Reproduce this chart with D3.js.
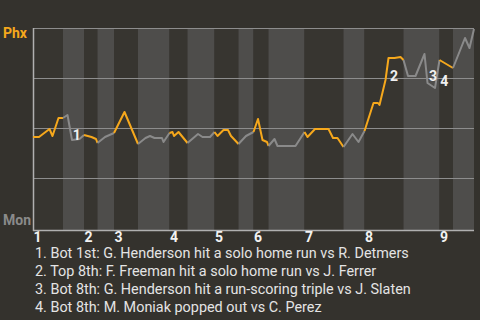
<!DOCTYPE html>
<html><head><meta charset="utf-8">
<script src="https://cdn.jsdelivr.net/npm/d3@7"></script>
<style>
html,body{margin:0;padding:0;background:#34322d;}
svg{display:block;}
text{font-family:Roboto,"Noto Sans",sans-serif;}
</style></head><body>
<svg id="chart" width="480" height="320"></svg>
<script>
// Teams shown at the top (away) and bottom (home) of the probability axis
const teams = ["Phx", "Mon"];
// Pitch number at which each half-inning begins: top 1st, bottom 1st, top 2nd ...
const halfStarts = [0, 20, 34, 43, 54, 70, 91, 103, 121, 137, 147, 157, 181, 207, 221, 247, 271, 280];
const totalPitches = 294;
const innings = [1, 2, 3, 4, 5, 6, 7, 8, 9];
const gridValues = [0.25, 0.5, 0.75, 1];

// Win probability for Phx after each scoring-relevant play, keyed by pitch number
const pitchNo = [0, 4, 11, 13, 17, 20, 23, 26, 31, 34, 39, 42, 43, 48, 51, 54, 61, 70,
  75, 78, 81, 86, 87, 91, 93, 94, 97, 103, 110, 113, 118, 121, 123, 127, 130, 132, 137,
  142, 147, 150, 153, 156, 157, 161, 163, 175, 181, 183, 188, 197, 200, 203, 207,
  213, 217, 221, 227, 230, 231, 235, 237, 241, 245, 247, 250, 255, 261, 263, 265, 268, 271,
  280, 288, 291, 294];
const winProb = [0.455, 0.455, 0.495, 0.46, 0.55, 0.55, 0.565, 0.44, 0.445, 0.465, 0.455, 0.445, 0.425, 0.455, 0.465, 0.475, 0.58, 0.42,
  0.45, 0.46, 0.45, 0.45, 0.43, 0.475, 0.48, 0.46, 0.48, 0.425, 0.47, 0.455, 0.455, 0.48, 0.46, 0.49, 0.49, 0.46, 0.42,
  0.46, 0.48, 0.545, 0.44, 0.43, 0.41, 0.445, 0.41, 0.41, 0.48, 0.455, 0.495, 0.495, 0.45, 0.45, 0.405,
  0.47, 0.43, 0.485, 0.625, 0.625, 0.615, 0.74, 0.85, 0.85, 0.855, 0.84, 0.76, 0.76, 0.87, 0.725, 0.715, 0.70, 0.84,
  0.80, 0.95, 0.90, 0.995];

// Key plays: pitch number of the play's result and its description
const eventPitch = [26, 237, 263, 271];
const eventText = [
  "Bot 1st: G. Henderson hit a solo home run vs R. Detmers",
  "Top 8th: F. Freeman hit a solo home run vs J. Ferrer",
  "Bot 8th: G. Henderson hit a run-scoring triple vs J. Slaten",
  "Bot 8th: M. Moniak popped out vs C. Perez"
];

const awayColor = "#f6a81c", homeColor = "#8a8a8a";
const svg = d3.select("#chart");
const x = d3.scaleLinear().domain([0, totalPitches]).range([33, 474]);
const y = d3.scaleLinear().domain([0, 1]).range([228, 28]);
const plotTop = 28, plotBottom = 230;

// Half-inning bands: tops dark, bottoms light
const halves = halfStarts.map((s, i) => ({ start: s, end: i + 1 < halfStarts.length ? halfStarts[i + 1] : totalPitches, i }));
svg.append("g").selectAll("rect").data(halves).join("rect")
  .attr("x", d => x(d.start)).attr("width", d => x(d.end) - x(d.start))
  .attr("y", plotTop).attr("height", plotBottom - plotTop)
  .attr("fill", d => d.i % 2 === 0 ? "#373530" : "#4e4d4b");

// Horizontal grid
svg.append("g").selectAll("line").data(gridValues).join("line")
  .attr("x1", x(0)).attr("x2", x(totalPitches))
  .attr("y1", d => Math.round(y(d)) + 0.5).attr("y2", d => Math.round(y(d)) + 0.5)
  .attr("stroke", "#8d8d8d").attr("stroke-width", 1);

// Axes frame
svg.append("line").attr("x1", x(0) + 0.5).attr("x2", x(0) + 0.5).attr("y1", plotTop).attr("y2", plotBottom + 1)
  .attr("stroke", "#b0b0b0").attr("stroke-width", 1.5);
svg.append("line").attr("x1", x(0)).attr("x2", x(totalPitches)).attr("y1", plotBottom + 0.5).attr("y2", plotBottom + 0.5)
  .attr("stroke", "#b0b0b0").attr("stroke-width", 1.5);

// Team labels
svg.append("text").attr("x", 3).attr("y", 38).text(teams[0])
  .attr("fill", awayColor).attr("font-size", 14).attr("font-weight", "bold");
svg.append("text").attr("x", 3).attr("y", 225).text(teams[1])
  .attr("fill", homeColor).attr("font-size", 14).attr("font-weight", "bold");

// Inning numbers at the start of each top half
svg.append("g").selectAll("text").data(innings).join("text")
  .attr("x", d => x(halfStarts[(d - 1) * 2]) + 0.5).attr("y", 242)
  .text(d => d).attr("fill", "#f2f2f2").attr("font-size", 14).attr("font-weight", "bold");

// Win probability line, coloured by batting team
const pts = pitchNo.map((p, i) => ({ p, v: winProb[i] }));
const halfOf = p => d3.bisectRight(halfStarts, p) - 1;
const runs = [];
for (let i = 1; i < pts.length; i++) {
  const h = halfOf((pts[i - 1].p + pts[i].p) / 2);
  const last = runs[runs.length - 1];
  if (last && last.h === h) last.pts.push(pts[i]);
  else runs.push({ h, pts: [pts[i - 1], pts[i]] });
}
const line = d3.line().x(d => x(d.p)).y(d => y(d.v));
svg.append("g").selectAll("path").data(runs).join("path")
  .attr("d", d => line(d.pts)).attr("fill", "none")
  .attr("stroke", d => d.h % 2 === 0 ? awayColor : homeColor)
  .attr("stroke-width", 2).attr("stroke-linejoin", "round");

// Numbered markers beside each key play
const markers = eventPitch.map((p, k) => {
  const i = pitchNo.indexOf(p);
  return { n: k + 1, mx: (x(pitchNo[i - 1]) + x(p)) / 2, my: (y(winProb[i - 1]) + y(winProb[i])) / 2 };
});
svg.append("g").selectAll("text").data(markers).join("text")
  .attr("x", d => d.mx + 7).attr("y", d => d.my + 12)
  .attr("text-anchor", "middle").text(d => d.n)
  .attr("fill", "#f0f0f0").attr("font-size", 14).attr("font-weight", "bold");

// Play descriptions
svg.append("g").selectAll("text").data(eventText).join("text")
  .attr("x", 35).attr("y", (d, i) => 258 + i * 18)
  .text((d, i) => `${i + 1}. ${d}`)
  .attr("fill", "#e4e4e4").attr("font-size", 14.4);
</script>
</body></html>
